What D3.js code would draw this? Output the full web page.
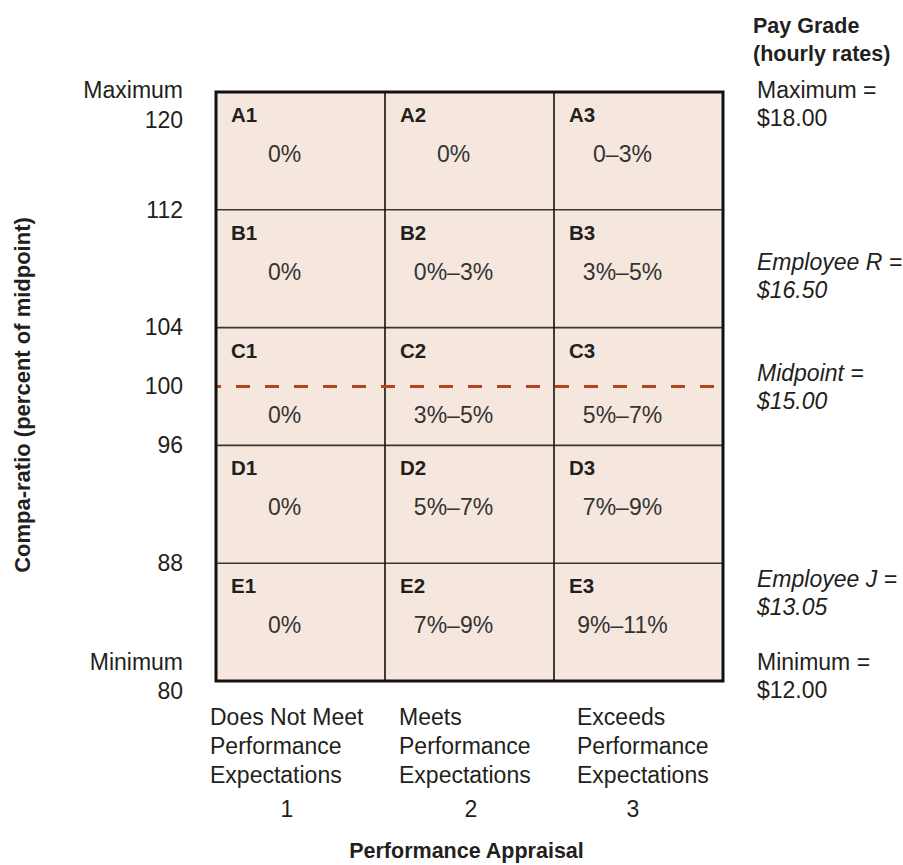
<!DOCTYPE html>
<html>
<head>
<meta charset="utf-8">
<script src="https://cdn.jsdelivr.net/npm/d3@7/dist/d3.min.js"></script>
<style>
  html, body { margin: 0; padding: 0; background: #fff; }
  svg text { font-family: "Liberation Sans", Arial, Helvetica, sans-serif; fill: #231f20; }
</style>
</head>
<body>
<svg id="chart" width="903" height="865"></svg>
<script>
// ---------------- data ----------------
const rowKeys = ["A", "B", "C", "D", "E"];
const rowLow  = [112, 104, 96, 88, 80];     // compa-ratio lower bound of each row
const rowHigh = [120, 112, 104, 96, 88];    // compa-ratio upper bound of each row
const colKeys = [1, 2, 3];
const colLabels = [
  ["Does Not Meet", "Performance", "Expectations"],
  ["Meets", "Performance", "Expectations"],
  ["Exceeds", "Performance", "Expectations"]
];
const meritIncrease = [
  ["0%", "0%", "0–3%"],
  ["0%", "0%–3%", "3%–5%"],
  ["0%", "3%–5%", "5%–7%"],
  ["0%", "5%–7%", "7%–9%"],
  ["0%", "7%–9%", "9%–11%"]
];
const yTickValues = [120, 112, 104, 100, 96, 88, 80];
const midpointRatio = 100;
const payTitle = ["Pay Grade", "(hourly rates)"];
const payLabels = [
  ["Maximum =", "$18.00"],
  ["Employee R =", "$16.50"],
  ["Midpoint =", "$15.00"],
  ["Employee J =", "$13.05"],
  ["Minimum =", "$12.00"]
];
const payRatio = [120, 110, 100, 87, 80];
const payItalic = [false, true, true, true, false];
const yTitle = "Compa-ratio (percent of midpoint)";
const xTitle = "Performance Appraisal";

// ---------------- layout ----------------
const L = 216, R = 723, T = 92, B = 681;
const FS = 23;
const payDy = [6, 31, -6, 9, -11];   // first-line baseline offset from scale position
const catDx = [-6, 14, 23];          // category label left offset from band start
const numDx = [71, 86, 79];          // category number centre offset from band start

const svg = d3.select("#chart");
const x = d3.scaleBand().domain(colKeys).range([L, R]).paddingInner(0).paddingOuter(0);
const y = d3.scaleLinear().domain([80, 120]).range([B, T]);

// cells
const cells = [];
rowKeys.forEach((rk, i) => colKeys.forEach((ck, j) => {
  cells.push({ row: i, col: ck, label: rk + ck, value: meritIncrease[i][j], lo: rowLow[i], hi: rowHigh[i] });
}));

const g = svg.append("g");
g.selectAll("rect.cell").data(cells).join("rect")
  .attr("class", "cell")
  .attr("x", d => x(d.col))
  .attr("y", d => y(d.hi))
  .attr("width", x.bandwidth())
  .attr("height", d => y(d.lo) - y(d.hi))
  .attr("fill", "#f5e7de");

// inner horizontal lines
g.selectAll("line.hrow").data(rowHigh.slice(1)).join("line")
  .attr("x1", L).attr("x2", R)
  .attr("y1", d => y(d)).attr("y2", d => y(d))
  .attr("stroke", "#3a3633").attr("stroke-width", 1.6);
// inner vertical lines
g.selectAll("line.vcol").data(colKeys.slice(1)).join("line")
  .attr("x1", d => x(d)).attr("x2", d => x(d))
  .attr("y1", T).attr("y2", B)
  .attr("stroke", "#111").attr("stroke-width", 1.6);

// midpoint dashed line
g.append("line")
  .attr("x1", L).attr("x2", R)
  .attr("y1", y(midpointRatio)).attr("y2", y(midpointRatio))
  .attr("stroke", "#b4441c").attr("stroke-width", 3)
  .attr("stroke-dasharray", "14,15")
  .attr("stroke-dashoffset", 9);

// outer border
g.append("rect")
  .attr("x", L).attr("y", T).attr("width", R - L).attr("height", B - T)
  .attr("fill", "none").attr("stroke", "#111").attr("stroke-width", 3);

// cell labels
g.selectAll("text.clabel").data(cells).join("text")
  .attr("x", d => x(d.col) + 15)
  .attr("y", d => y(d.hi) + 30)
  .attr("font-size", 20.5).attr("font-weight", "bold")
  .text(d => d.label);

// cell values
g.selectAll("text.cval").data(cells).join("text")
  .attr("x", d => x(d.col) + x.bandwidth() / 2 - 16)
  .attr("y", d => (d.lo < midpointRatio && d.hi > midpointRatio) ? y(midpointRatio) + 36 : y(d.hi) + 70)
  .attr("text-anchor", "middle")
  .attr("font-size", FS)
  .style("fill", "#333")
  .text(d => d.value);

// y axis (tick labels only)
const yAxis = d3.axisLeft(y).tickValues(yTickValues).tickSize(0).tickPadding(33);
const ya = svg.append("g").attr("transform", `translate(${L},0)`).call(yAxis);
ya.select(".domain").remove();
ya.selectAll("text").attr("font-size", FS).attr("font-family", null).style("fill", "#231f20");
ya.selectAll(".tick").each(function(d) {
  const t = d3.select(this).select("text");
  if (d === 120) {
    t.attr("dy", null).attr("y", 35);
    d3.select(this).append("text").attr("x", -33).attr("y", 5)
      .attr("text-anchor", "end").attr("font-size", FS).style("fill", "#231f20").text("Maximum");
  } else if (d === 80) {
    t.attr("dy", null).attr("y", 17);
    d3.select(this).append("text").attr("x", -33).attr("y", -12)
      .attr("text-anchor", "end").attr("font-size", FS).style("fill", "#231f20").text("Minimum");
  }
});

// y title
svg.append("text")
  .attr("transform", `translate(30,395) rotate(-90)`)
  .attr("text-anchor", "middle")
  .attr("font-size", 22).attr("font-weight", "bold")
  .text(yTitle);

// x category labels
colKeys.forEach((ck, j) => {
  const grp = svg.append("g");
  colLabels[j].forEach((s, k) => grp.append("text")
    .attr("x", x(ck) + catDx[j])
    .attr("y", 725 + k * 29)
    .attr("font-size", FS).text(s));
  grp.append("text").attr("x", x(ck) + numDx[j]).attr("y", 817)
    .attr("text-anchor", "middle").attr("font-size", FS).text(ck);
});

// x title
svg.append("text")
  .attr("x", (L + R) / 2 - 3).attr("y", 858)
  .attr("text-anchor", "middle")
  .attr("font-size", 21.5).attr("font-weight", "bold")
  .text(xTitle);

// pay grade annotations
payTitle.forEach((s, k) => {
  svg.append("text").attr("x", 753).attr("y", 33 + k * 28)
    .attr("font-size", 21.5).attr("font-weight", "bold").text(s);
});
payLabels.forEach((lines, i) => {
  lines.forEach((s, k) => {
    svg.append("text")
      .attr("x", 757)
      .attr("y", y(payRatio[i]) + payDy[i] + k * 28)
      .attr("font-size", FS)
      .attr("font-style", payItalic[i] ? "italic" : "normal")
      .text(s);
  });
});
</script>
</body>
</html>
